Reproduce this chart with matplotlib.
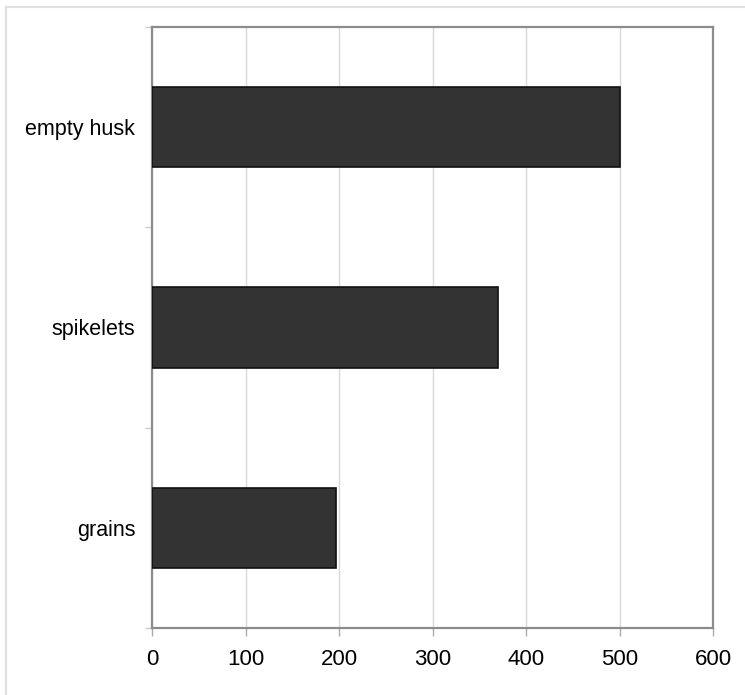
import matplotlib
matplotlib.use('Agg')
import matplotlib.pyplot as plt
from matplotlib.lines import Line2D
import numpy as np

categories = ['grains', 'spikelets', 'empty husk']
values = [197, 370, 500]
xticks = [0, 100, 200, 300, 400, 500, 600]

plt.rcParams['font.family'] = ['Liberation Sans', 'DejaVu Sans']

fig = plt.figure(figsize=(7.45, 6.95), dpi=100)
ax = fig.add_axes([152/745, 1 - 628/695, 561/745, 601/695])

y = np.arange(len(categories))
ax.barh(y, values, height=0.4, color='#333333', edgecolor='#111111',
        linewidth=1.2, zorder=3)

ax.set_xlim(0, 600)
ax.set_ylim(-0.5, len(categories) - 0.5)
ax.set_xticks(xticks)
ax.set_xticklabels([str(t) for t in xticks], fontsize=16)
ax.xaxis.grid(True, color='#d9d9d9', linewidth=1, zorder=0)

# category labels centred, ticks at the boundaries
ax.set_yticks(y)
ax.set_yticklabels(categories, fontsize=15.5)
ax.tick_params(axis='y', length=0, pad=12)
ax.set_yticks(np.arange(len(categories) + 1) - 0.5, minor=True)
ax.tick_params(axis='y', which='minor', length=5, color='#cccccc', width=1)
ax.tick_params(axis='x', length=6, color='#aaaaaa', width=1, pad=9)

for s in ax.spines.values():
    s.set_color('#8c8c8c')
    s.set_linewidth(1.6)

# light border lines at top and left of the picture
fig.add_artist(Line2D([6/745, 6/745], [0, 1 - 7/695], color='#e0e0e0',
                      linewidth=1.5, transform=fig.transFigure))
fig.add_artist(Line2D([6/745, 1], [1 - 7/695, 1 - 7/695], color='#e0e0e0',
                      linewidth=1.5, transform=fig.transFigure))

fig.savefig('out.png', dpi=100)
